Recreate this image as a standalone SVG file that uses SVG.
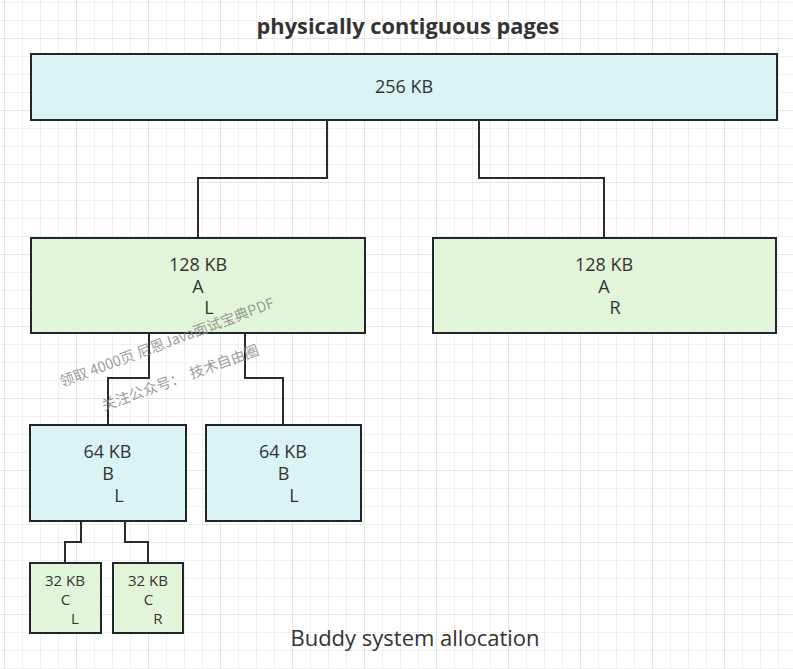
<svg xmlns="http://www.w3.org/2000/svg" width="793" height="669" viewBox="0 0 793 669">
  <defs>
    <pattern id="grid" patternUnits="userSpaceOnUse" x="4" y="38" width="72" height="72">
      <rect x="0" y="0" width="72" height="72" fill="#ffffff"/>
      <g fill="#f0f0f0">
        <rect x="18" y="0" width="1" height="72"/>
        <rect x="36" y="0" width="1" height="72"/>
        <rect x="54" y="0" width="1" height="72"/>
        <rect x="0" y="18" width="72" height="1"/>
        <rect x="0" y="36" width="72" height="1"/>
        <rect x="0" y="54" width="72" height="1"/>
      </g>
      <g fill="#e5e5e5">
        <rect x="0" y="0" width="1" height="72"/>
        <rect x="0" y="0" width="72" height="1"/>
      </g>
    </pattern>
    <style>
      .box { stroke: #1f272d; stroke-width: 2; }
      .cyan { fill: #daf3f4; }
      .green { fill: #e3f5d8; }
      .lbl { font-family: "Open Sans", "Noto Sans", "Liberation Sans", sans-serif; font-size: 18px; fill: #333333; text-anchor: middle; }
      .sm { font-size: 15px; }
      .conn { fill: none; stroke: #2b2b2b; stroke-width: 2; }
      .title { font-family: "Open Sans", "Noto Sans", "Liberation Sans", sans-serif; font-size: 21.8px; font-weight: bold; fill: #333333; text-anchor: middle; }
      .caption { font-family: "Open Sans", "Noto Sans", "Liberation Sans", sans-serif; font-size: 22px; fill: #333333; text-anchor: middle; }
      .wm { font-family: "Noto Sans CJK SC", "Noto Sans", sans-serif; font-size: 14.5px; fill: #8a8a8a; fill-opacity: 0.85; white-space: pre; }
    </style>
  </defs>
  <rect x="0" y="0" width="793" height="669" fill="url(#grid)"/>

  <text class="title" x="408" y="34">physically contiguous pages</text>

  <g id="connectors">
    <path class="conn" d="M327 120 V178 H198 V238"/>
    <path class="conn" d="M479 120 V178 H604 V238"/>
    <path class="conn" d="M149 333 V378 H108 V425"/>
    <path class="conn" d="M245 333 V378 H283 V425"/>
    <path class="conn" d="M81 521 V542 H65 V563"/>
    <path class="conn" d="M125 521 V542 H148 V563"/>
  </g>

  <g id="n256">
    <rect class="box cyan" x="31" y="54" width="746" height="66"/>
    <text class="lbl" x="404" y="93">256 KB</text>
  </g>

  <g id="n128AL">
    <rect class="box green" x="31" y="238" width="334" height="95"/>
    <text class="lbl" x="198" y="271">128 KB</text>
    <text class="lbl" x="198" y="293">A</text>
    <text class="lbl" x="209" y="314">L</text>
  </g>

  <g id="n128AR">
    <rect class="box green" x="433" y="238" width="343" height="95"/>
    <text class="lbl" x="604" y="271">128 KB</text>
    <text class="lbl" x="604" y="293">A</text>
    <text class="lbl" x="615" y="314">R</text>
  </g>

  <g id="n64BL1">
    <rect class="box cyan" x="30" y="425" width="156" height="96"/>
    <text class="lbl" x="107.5" y="458">64 KB</text>
    <text class="lbl" x="108" y="480">B</text>
    <text class="lbl" x="119" y="502">L</text>
  </g>

  <g id="n64BL2">
    <rect class="box cyan" x="206" y="425" width="155" height="96"/>
    <text class="lbl" x="283" y="458">64 KB</text>
    <text class="lbl" x="283.5" y="480">B</text>
    <text class="lbl" x="294" y="502">L</text>
  </g>

  <g id="n32CL">
    <rect class="box green" x="30" y="563" width="71" height="70"/>
    <text class="lbl sm" x="65" y="586">32 KB</text>
    <text class="lbl sm" x="65.5" y="604.5">C</text>
    <text class="lbl sm" x="75" y="623.5">L</text>
  </g>

  <g id="n32CR">
    <rect class="box green" x="113" y="563" width="70" height="70"/>
    <text class="lbl sm" x="148" y="586">32 KB</text>
    <text class="lbl sm" x="148.5" y="604.5">C</text>
    <text class="lbl sm" x="158" y="623.5">R</text>
  </g>

  <text class="caption" x="415" y="646">Buddy system allocation</text>

  <g id="watermark">
    <text class="wm" x="62" y="387" transform="rotate(-20.5 62 387)">领取 4000页 尼恩Java面试宝典PDF</text>
    <text class="wm" x="104" y="411" transform="rotate(-20 104 411)">关注公众号：  技术自由圈</text>
  </g>
</svg>
